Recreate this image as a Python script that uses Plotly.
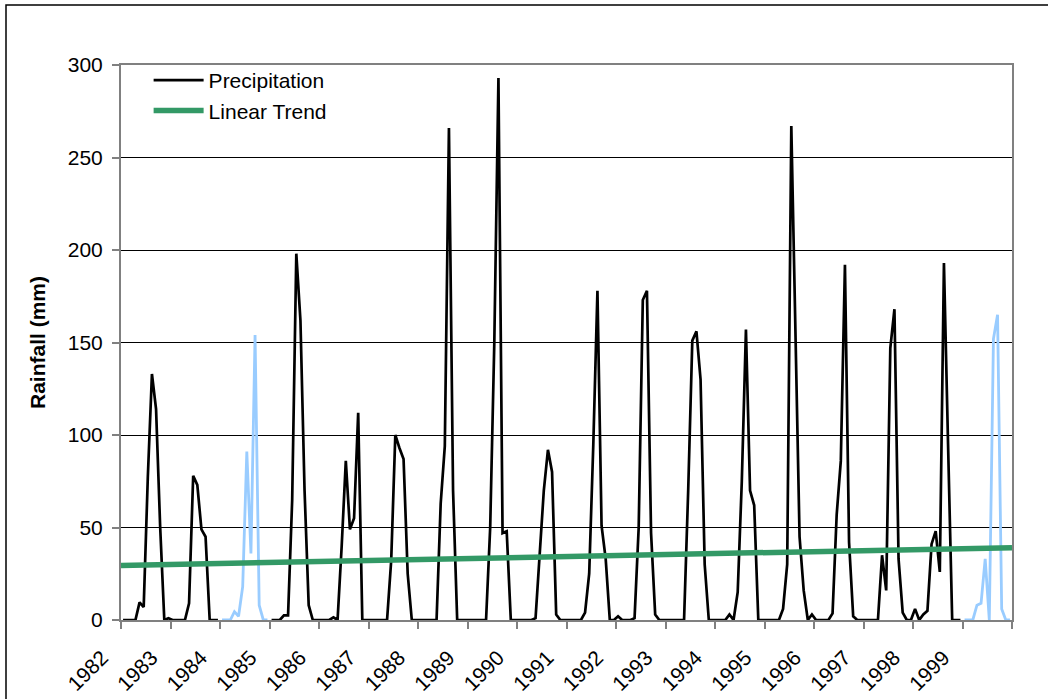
import plotly.graph_objects as go

years = list(range(1982, 2000))
flagged_years = [1984, 1999]

# monthly rainfall (mm), Jan..Dec for each year
rain = {
    1982: [0, 0, 0, 0, 9.5, 7, 77, 133, 114, 50, 0, 1],
    1983: [0, 0, 0, 0, 9, 78, 73, 49, 45, 0, 0, 0],
    1984: [0, 0, 0, 4.5, 2, 18, 91, 36, 154, 8, 0, 0],
    1985: [0, 0, 0, 2.5, 2.5, 65, 198, 162, 70, 8, 0, 0],
    1986: [0, 0, 0, 1.4, 0, 40, 86, 49, 55, 112, 0, 0],
    1987: [0, 0, 0, 0, 0, 32, 100, 93, 87, 25, 0, 0],
    1988: [0, 0, 0, 0, 0, 63, 94, 266, 70, 0, 0, 0],
    1989: [0, 0, 0, 0, 0, 50, 150, 293, 47, 48, 0, 0],
    1990: [0, 0, 0, 0, 1, 35, 70, 92, 80, 3, 0, 0],
    1991: [0, 0, 0, 0, 4, 25, 95, 178, 51, 33, 0, 0],
    1992: [2, 0, 0, 0, 1, 50, 173, 178, 47, 3, 0, 0],
    1993: [0, 0, 0, 0, 0, 70, 151, 156, 130, 30, 0, 0],
    1994: [0, 0, 0, 3, 0, 15, 75, 157, 70, 62, 0, 0],
    1995: [0, 0, 0, 0, 6, 30, 267, 155, 45, 16, 0, 3],
    1996: [0, 0, 0, 0, 3.6, 57, 86, 192, 42, 2, 0, 0],
    1997: [0, 0, 0, 0, 35, 16, 147, 168, 33, 4, 0, 0],
    1998: [6, 0, 3, 5, 41, 48, 26, 193, 95, 0, 0, 0],
    1999: [0, 0, 0, 8, 9, 33, 0, 152, 165, 6, 0, 0],
}

trend_start = 29.5
trend_end = 39.1

y_ticks = [0, 50, 100, 150, 200, 250, 300]

# build series
x_idx = []
black_vals = []
blue_vals = []
i = 0
for yr in years:
    for v in rain[yr]:
        x_idx.append(i)
        if yr in flagged_years:
            black_vals.append(None)
            blue_vals.append(v)
        else:
            black_vals.append(v)
            blue_vals.append(None)
        i += 1
n = len(x_idx)

font_family = "Liberation Sans, Arial, sans-serif"

fig = go.Figure()
fig.add_trace(go.Scatter(
    x=x_idx, y=black_vals, mode="lines", name="Precipitation",
    line=dict(color="#000000", width=2.7), connectgaps=False,
))
fig.add_trace(go.Scatter(
    x=x_idx, y=blue_vals, mode="lines", name="Flagged", showlegend=False,
    line=dict(color="#99CCFF", width=2.8), connectgaps=False,
))
fig.add_trace(go.Scatter(
    x=[-0.5, n - 0.5], y=[trend_start, trend_end], mode="lines", name="Linear Trend",
    line=dict(color="#339966", width=5.5),
))

tickvals = [-0.5 + 12 * k for k in range(len(years) + 1)]
ticktext = [str(y) for y in years] + [""]

W, H = 1048, 699
L, R, T, B = 121, 1012, 65, 620

fig.update_layout(
    width=W, height=H,
    margin=dict(l=L, r=W - R, t=T, b=H - B),
    paper_bgcolor="white", plot_bgcolor="white",
    font=dict(family=font_family, size=21, color="#000000"),
    showlegend=True,
    legend=dict(
        x=0.031, y=1.009, xanchor="left", yanchor="top",
        bgcolor="rgba(0,0,0,0)", font=dict(size=21), itemwidth=50,
        tracegroupgap=0,
    ),
    xaxis=dict(
        range=[-0.5, n - 0.5], tickmode="array", tickvals=tickvals, ticktext=ticktext,
        tickangle=-45, ticks="outside", ticklen=7, tickcolor="#808080", tickwidth=1.5,
        showline=True, linecolor="#808080", linewidth=2, mirror=True,
        showgrid=False, zeroline=False, ticklabelstandoff=8, ticklabelshift=-19,
        tickfont=dict(size=21), automargin=False,
    ),
    yaxis=dict(
        range=[0, 300], tickvals=y_ticks, ticks="outside", ticklen=7,
        tickcolor="#808080", tickwidth=1.5,
        showline=True, linecolor="#808080", linewidth=2, mirror=True,
        showgrid=True, gridcolor="#000000", gridwidth=1, zeroline=False,
        ticklabelstandoff=5, tickfont=dict(size=21), automargin=False,
        title=dict(text="Rainfall (mm)", font=dict(size=21, weight="bold"), standoff=16),
    ),
)

# outer chart-area border (extends past right and bottom edges)
pw, ph = R - L, B - T
fig.add_shape(
    type="rect", xref="paper", yref="paper",
    x0=(6 - L) / pw, x1=(W + 5 - L) / pw,
    y0=(B - (H + 5)) / ph, y1=(B - 5) / ph,
    line=dict(color="#000000", width=1.5), fillcolor="rgba(0,0,0,0)", layer="below",
)

fig.write_html("out.html")
